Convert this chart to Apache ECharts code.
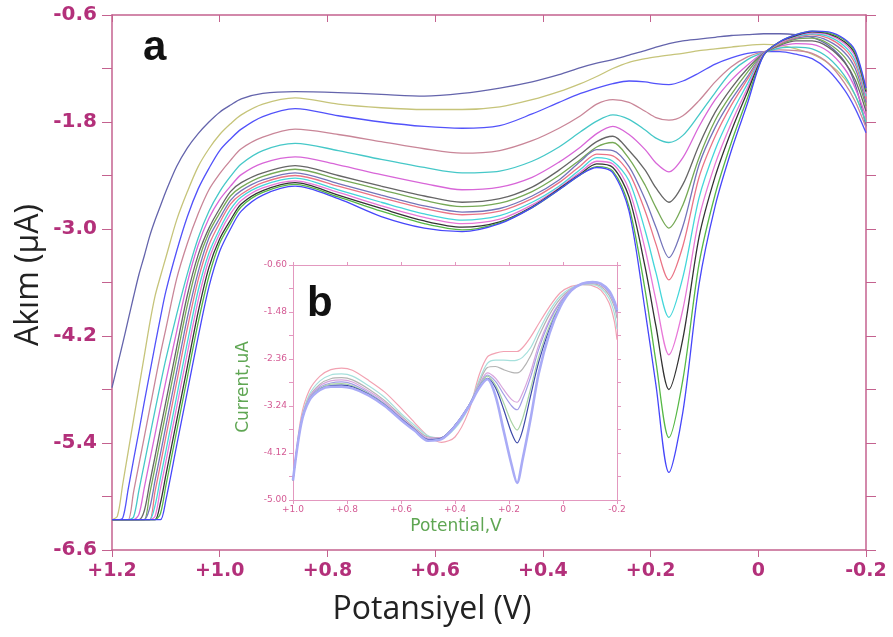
<!DOCTYPE html>
<html>
<head>
<meta charset="utf-8">
<script src="https://cdn.jsdelivr.net/npm/echarts@6/dist/echarts.min.js"></script>
<style>
html, body { margin: 0; padding: 0; background: #fff; }
#chart { width: 893px; height: 637px; }
</style>
</head>
<body>
<div id="chart"></div>
<script>
// potential grid (V) shared by all main curves
var potMain = [1.20, 1.19, 1.18, 1.17, 1.16, 1.15, 1.14, 1.13, 1.12, 1.11, 1.10,
  1.08, 1.06, 1.04, 1.02, 1.00, 0.98, 0.96, 0.92, 0.86,
  0.78, 0.70, 0.62, 0.55, 0.48, 0.42, 0.37, 0.33, 0.30,
  0.27, 0.24, 0.21, 0.19, 0.166, 0.14, 0.11, 0.08, 0.05, 0.02,
  -0.01, -0.04, -0.07, -0.10, -0.13, -0.16, -0.18, -0.20];

// current (uA), top curve first
var akim01 = [-4.78, -4.53, -4.28, -4.02, -3.76, -3.51, -3.30, -3.08, -2.90, -2.74, -2.58,
  -2.30, -2.09, -1.93, -1.80, -1.69, -1.61, -1.54, -1.48, -1.46,
  -1.47, -1.49, -1.51, -1.48, -1.42, -1.35, -1.27, -1.19, -1.14,
  -1.10, -1.05, -1.00, -0.96, -0.92, -0.89, -0.87, -0.85, -0.83, -0.82,
  -0.81, -0.81, -0.82, -0.85, -0.94, -1.12, -1.38, -1.85];
var akim02 = [-6.26, -6.22, -5.86, -5.50, -5.14, -4.78, -4.42, -4.06, -3.75, -3.53, -3.32,
  -2.90, -2.58, -2.30, -2.10, -1.94, -1.82, -1.72, -1.60, -1.53,
  -1.60, -1.64, -1.66, -1.66, -1.63, -1.55, -1.46, -1.37, -1.29,
  -1.20, -1.13, -1.09, -1.07, -1.05, -1.03, -1.00, -0.98, -0.96, -0.94,
  -0.93, -0.94, -0.98, -1.04, -1.14, -1.31, -1.50, -1.80];
var akim03 = [-6.26, -6.26, -6.24, -5.92, -5.59, -5.27, -4.94, -4.62, -4.30, -3.99, -3.70,
  -3.25, -2.86, -2.55, -2.32, -2.12, -1.99, -1.88, -1.74, -1.65,
  -1.73, -1.80, -1.85, -1.87, -1.84, -1.71, -1.58, -1.48, -1.42,
  -1.37, -1.34, -1.35, -1.37, -1.38, -1.34, -1.25, -1.15, -1.08, -1.03,
  -1.01, -1.01, -1.04, -1.09, -1.22, -1.44, -1.65, -1.92];
var akim04 = [-6.26, -6.26, -6.26, -6.26, -5.95, -5.64, -5.33, -5.02, -4.71, -4.40, -4.12,
  -3.56, -3.16, -2.83, -2.56, -2.38, -2.23, -2.10, -1.97, -1.88,
  -1.94, -2.02, -2.10, -2.15, -2.12, -2.01, -1.87, -1.73, -1.60,
  -1.55, -1.58, -1.68, -1.75, -1.78, -1.73, -1.56, -1.35, -1.18, -1.07,
  -1.01, -0.99, -1.00, -1.03, -1.14, -1.36, -1.57, -1.86];
var akim05 = [-6.26, -6.26, -6.26, -6.26, -6.23, -5.93, -5.63, -5.33, -5.03, -4.74, -4.46,
  -3.96, -3.50, -3.10, -2.80, -2.58, -2.41, -2.27, -2.12, -2.04,
  -2.12, -2.22, -2.31, -2.37, -2.35, -2.24, -2.08, -1.91, -1.79,
  -1.72, -1.77, -1.89, -1.98, -2.03, -1.95, -1.72, -1.47, -1.24, -1.10,
  -1.02, -0.97, -0.96, -0.98, -1.08, -1.28, -1.50, -1.80];
var akim06 = [-6.26, -6.26, -6.26, -6.26, -6.26, -6.20, -5.90, -5.60, -5.30, -5.00, -4.71,
  -4.15, -3.60, -3.18, -2.88, -2.67, -2.52, -2.39, -2.26, -2.19,
  -2.28, -2.39, -2.49, -2.56, -2.53, -2.42, -2.25, -2.08, -1.93,
  -1.85, -1.94, -2.11, -2.26, -2.36, -2.20, -1.85, -1.55, -1.33, -1.16,
  -1.02, -0.95, -0.92, -0.93, -1.01, -1.20, -1.42, -1.74];
var akim07 = [-6.26, -6.26, -6.26, -6.26, -6.26, -6.26, -6.16, -5.85, -5.55, -5.24, -4.94,
  -4.33, -3.74, -3.29, -2.99, -2.77, -2.58, -2.48, -2.37, -2.29,
  -2.40, -2.52, -2.63, -2.70, -2.66, -2.53, -2.34, -2.16, -2.02,
  -1.96, -2.12, -2.34, -2.54, -2.70, -2.50, -2.06, -1.69, -1.42, -1.20,
  -1.03, -0.94, -0.89, -0.89, -0.96, -1.13, -1.33, -1.68];
var akim08 = [-6.26, -6.26, -6.26, -6.26, -6.26, -6.26, -6.26, -5.97, -5.67, -5.36, -5.06,
  -4.45, -3.85, -3.37, -3.04, -2.82, -2.63, -2.53, -2.41, -2.33,
  -2.44, -2.56, -2.68, -2.75, -2.71, -2.58, -2.40, -2.22, -2.08,
  -2.03, -2.21, -2.51, -2.76, -2.99, -2.73, -2.20, -1.78, -1.49, -1.24,
  -1.03, -0.93, -0.87, -0.86, -0.92, -1.07, -1.26, -1.62];
var akim09 = [-6.26, -6.26, -6.26, -6.26, -6.26, -6.26, -6.26, -6.13, -5.82, -5.52, -5.21,
  -4.60, -3.99, -3.48, -3.10, -2.88, -2.68, -2.57, -2.45, -2.37,
  -2.49, -2.62, -2.74, -2.81, -2.77, -2.63, -2.45, -2.24, -2.11,
  -2.12, -2.30, -2.67, -2.98, -3.32, -2.97, -2.28, -1.86, -1.55, -1.29,
  -1.03, -0.92, -0.86, -0.84, -0.89, -1.02, -1.20, -1.58];
var akim10 = [-6.26, -6.26, -6.26, -6.26, -6.26, -6.26, -6.26, -6.26, -5.94, -5.64, -5.33,
  -4.72, -4.11, -3.57, -3.18, -2.93, -2.72, -2.61, -2.48, -2.40,
  -2.52, -2.65, -2.77, -2.84, -2.80, -2.66, -2.48, -2.29, -2.16,
  -2.18, -2.37, -2.80, -3.17, -3.57, -3.19, -2.42, -1.96, -1.61, -1.32,
  -1.04, -0.92, -0.85, -0.82, -0.86, -0.98, -1.15, -1.54];
var akim11 = [-6.26, -6.26, -6.26, -6.26, -6.26, -6.26, -6.26, -6.26, -6.10, -5.79, -5.49,
  -4.88, -4.27, -3.69, -3.27, -3.00, -2.78, -2.64, -2.51, -2.43,
  -2.56, -2.70, -2.83, -2.90, -2.85, -2.70, -2.52, -2.33, -2.20,
  -2.24, -2.46, -3.02, -3.49, -3.99, -3.54, -2.65, -2.11, -1.71, -1.37,
  -1.04, -0.91, -0.84, -0.81, -0.84, -0.95, -1.11, -1.51];
var akim12 = [-6.26, -6.26, -6.26, -6.26, -6.26, -6.26, -6.26, -6.26, -6.22, -5.91, -5.61,
  -5.00, -4.39, -3.80, -3.34, -3.05, -2.83, -2.68, -2.54, -2.46,
  -2.59, -2.74, -2.87, -2.94, -2.89, -2.73, -2.54, -2.36, -2.24,
  -2.27, -2.56, -3.23, -3.80, -4.41, -3.90, -2.88, -2.27, -1.81, -1.42,
  -1.04, -0.91, -0.83, -0.80, -0.82, -0.92, -1.07, -1.48];
var akim13 = [-6.26, -6.26, -6.26, -6.26, -6.26, -6.26, -6.26, -6.26, -6.26, -6.07, -5.76,
  -5.15, -4.54, -3.93, -3.43, -3.11, -2.90, -2.72, -2.57, -2.48,
  -2.62, -2.77, -2.91, -2.98, -2.92, -2.75, -2.55, -2.38, -2.27,
  -2.31, -2.64, -3.43, -4.09, -4.80, -4.23, -3.09, -2.41, -1.90, -1.46,
  -1.05, -0.90, -0.83, -0.79, -0.81, -0.90, -1.04, -1.46];
var akim14 = [-6.26, -6.26, -6.26, -6.26, -6.26, -6.26, -6.26, -6.26, -6.26, -6.19, -5.88,
  -5.27, -4.66, -4.05, -3.53, -3.16, -2.94, -2.75, -2.59, -2.50,
  -2.64, -2.80, -2.94, -3.01, -2.93, -2.76, -2.56, -2.39, -2.30,
  -2.35, -2.75, -3.69, -4.49, -5.34, -4.69, -3.39, -2.61, -2.03, -1.53,
  -1.05, -0.90, -0.82, -0.78, -0.80, -0.88, -1.02, -1.44];
var akim15 = [-6.26, -6.26, -6.26, -6.26, -6.26, -6.26, -6.26, -6.26, -6.26, -6.26, -6.04,
  -5.43, -4.82, -4.21, -3.65, -3.25, -3.00, -2.80, -2.62, -2.52,
  -2.66, -2.86, -2.99, -3.03, -2.94, -2.76, -2.56, -2.39, -2.31,
  -2.37, -2.80, -3.92, -4.75, -5.73, -5.05, -3.62, -2.74, -2.12, -1.59,
  -1.05, -0.90, -0.82, -0.78, -0.79, -0.87, -1.00, -1.42];

var mainCurves = [akim01, akim02, akim03, akim04, akim05, akim06, akim07, akim08,
  akim09, akim10, akim11, akim12, akim13, akim14, akim15];
var mainColors = ['#6464ac', '#c6c47a', '#5252fa', '#c98698', '#46c8c8', '#d866d8', '#666666', '#76a956',
  '#7474ba', '#ea7486', '#44d6da', '#e878d8', '#333333', '#56b845', '#4646fa'];

// inset (b)
var potInset = [1.0, 0.97, 0.94, 0.90, 0.86, 0.82, 0.78, 0.72, 0.66, 0.60, 0.55, 0.50, 0.45, 0.40, 0.35, 0.31,
  0.28, 0.25, 0.22, 0.19, 0.17,
  0.15, 0.12, 0.09, 0.05, 0.01, -0.03, -0.07, -0.11, -0.14, -0.17, -0.19, -0.20];
var current1 = [-4.63, -3.45, -2.95, -2.68, -2.56, -2.53, -2.57, -2.76, -2.98, -3.28, -3.55, -3.80, -3.92, -3.82, -3.35, -2.65,
  -2.32, -2.25, -2.22, -2.22, -2.22,
  -2.15, -1.95, -1.70, -1.38, -1.12, -1.00, -0.97, -0.99, -1.07, -1.30, -1.65, -2.00];
var current2 = [-4.63, -3.52, -3.03, -2.77, -2.66, -2.64, -2.68, -2.86, -3.08, -3.38, -3.60, -3.80, -3.84, -3.66, -3.28, -2.75,
  -2.44, -2.38, -2.38, -2.39, -2.38,
  -2.33, -2.15, -1.84, -1.46, -1.18, -1.03, -0.97, -0.97, -1.03, -1.22, -1.50, -1.80];
var current3 = [-4.63, -3.54, -3.07, -2.83, -2.73, -2.71, -2.75, -2.92, -3.14, -3.42, -3.64, -3.82, -3.83, -3.63, -3.26, -2.80,
  -2.52, -2.50, -2.56, -2.61, -2.62,
  -2.55, -2.30, -1.94, -1.53, -1.23, -1.05, -0.96, -0.95, -1.00, -1.16, -1.38, -1.60];
var current4 = [-4.63, -3.55, -3.09, -2.86, -2.77, -2.75, -2.79, -2.96, -3.17, -3.45, -3.66, -3.84, -3.83, -3.61, -3.25, -2.84,
  -2.62, -2.72, -2.93, -3.12, -3.17,
  -3.00, -2.60, -2.10, -1.62, -1.28, -1.06, -0.95, -0.93, -0.97, -1.12, -1.33, -1.52];
var current5 = [-4.63, -3.56, -3.11, -2.89, -2.81, -2.79, -2.83, -2.99, -3.20, -3.47, -3.68, -3.86, -3.84, -3.61, -3.24, -2.86,
  -2.66, -2.78, -3.02, -3.24, -3.31,
  -3.12, -2.70, -2.18, -1.66, -1.30, -1.07, -0.95, -0.92, -0.96, -1.10, -1.30, -1.48];
var current6 = [-4.63, -3.56, -3.12, -2.91, -2.83, -2.82, -2.86, -3.01, -3.21, -3.48, -3.68, -3.87, -3.84, -3.60, -3.24, -2.87,
  -2.68, -2.85, -3.18, -3.55, -3.69,
  -3.48, -2.92, -2.32, -1.74, -1.34, -1.08, -0.95, -0.92, -0.95, -1.08, -1.28, -1.46];
var current7 = [-4.63, -3.57, -3.13, -2.93, -2.86, -2.85, -2.88, -3.02, -3.22, -3.48, -3.68, -3.87, -3.84, -3.60, -3.24, -2.88,
  -2.72, -2.90, -3.30, -3.75, -3.93,
  -3.70, -3.05, -2.42, -1.80, -1.36, -1.08, -0.95, -0.92, -0.95, -1.08, -1.28, -1.45];
var current8 = [-4.63, -3.58, -3.14, -2.94, -2.88, -2.88, -2.91, -3.04, -3.24, -3.50, -3.70, -3.89, -3.86, -3.62, -3.26, -2.90,
  -2.74, -3.05, -3.70, -4.35, -4.68,
  -4.25, -3.48, -2.63, -1.88, -1.38, -1.08, -0.95, -0.92, -0.95, -1.08, -1.28, -1.45];

var insetCurves = [current1, current2, current3, current4, current5, current6, current7, current8];
var insetColors = ['#f2a2b2', '#a6e0dc', '#b4b4b4', '#d8a4dc', '#a29ce6', '#a8d3a4', '#3d49a8', '#a9abf6'];

var mainYTicks = { min: -6.6, max: -0.6, step: 1.2 };
var insetYTicks = { min: -5.0, max: -0.6, step: 0.88 };

var AXIS_PINK = '#c4628f';
var LABEL_PINK = '#b3307a';
var INSET_PINK = '#e398bf';
var INSET_LABEL = '#d45a94';
var INSET_GREEN = '#5fa653';

function potLabel(v) {
  if (Math.abs(v) < 1e-6) return '0';
  return (v > 0 ? '+' : '') + v.toFixed(1);
}

function toPairs(xs, ys) {
  return xs.map(function (x, i) { return [x, ys[i]]; });
}

var series = [];
mainCurves.forEach(function (c, i) {
  series.push({
    type: 'line', xAxisIndex: 0, yAxisIndex: 0,
    data: toPairs(potMain, c), showSymbol: false, smooth: 0.3,
    lineStyle: { color: mainColors[i], width: 1.3 }, silent: true
  });
});
insetCurves.forEach(function (c, i) {
  series.push({
    type: 'line', xAxisIndex: 2, yAxisIndex: 2,
    data: toPairs(potInset, c), showSymbol: false, smooth: 0.3,
    lineStyle: { color: insetColors[i], width: i === 7 ? 2.6 : 1.2 }, silent: true
  });
});

var myChart = echarts.init(document.getElementById('chart'));

var option = {
  animation: false,
  backgroundColor: '#fff',
  grid: [
    { left: 112, top: 15, width: 754, height: 535 },
    { left: 293, top: 265, width: 324, height: 235 }
  ],
  xAxis: [
    {
      gridIndex: 0, type: 'value', min: -0.2, max: 1.2, interval: 0.2, inverse: true, position: 'bottom',
      axisLine: { onZero: false, lineStyle: { color: AXIS_PINK, width: 1.5 } },
      axisTick: { length: 7, lineStyle: { color: AXIS_PINK } },
      axisLabel: { formatter: potLabel, color: LABEL_PINK, fontFamily: 'DejaVu Sans', fontWeight: 'bold', fontSize: 19, margin: 12 },
      splitLine: { show: false }
    },
    {
      gridIndex: 0, type: 'value', min: -0.2, max: 1.2, interval: 0.2, inverse: true, position: 'top',
      axisLine: { onZero: false, lineStyle: { color: AXIS_PINK, width: 1.5 } },
      axisTick: { inside: true, length: 7, lineStyle: { color: AXIS_PINK } },
      axisLabel: { show: false }, splitLine: { show: false }
    },
    {
      gridIndex: 1, type: 'value', min: -0.2, max: 1.0, interval: 0.2, inverse: true, position: 'bottom',
      axisLine: { onZero: false, lineStyle: { color: INSET_PINK, width: 1 } },
      axisTick: { length: 4, lineStyle: { color: INSET_PINK } },
      axisLabel: { formatter: potLabel, color: INSET_LABEL, fontFamily: 'DejaVu Sans', fontSize: 9, margin: 5 },
      splitLine: { show: false }
    },
    {
      gridIndex: 1, type: 'value', min: -0.2, max: 1.0, interval: 0.2, inverse: true, position: 'top',
      axisLine: { onZero: false, lineStyle: { color: INSET_PINK, width: 1 } },
      axisTick: { length: 3, lineStyle: { color: INSET_PINK } },
      axisLabel: { show: false }, splitLine: { show: false }
    }
  ],
  yAxis: [
    {
      gridIndex: 0, type: 'value', min: mainYTicks.min, max: mainYTicks.max, interval: mainYTicks.step, position: 'left',
      axisLine: { show: true, onZero: false, lineStyle: { color: AXIS_PINK, width: 1.5 } },
      axisTick: { show: true, length: 10, lineStyle: { color: AXIS_PINK } },
      minorTick: { show: true, splitNumber: 2, length: 10, lineStyle: { color: AXIS_PINK } },
      axisLabel: { formatter: function (v) { return v.toFixed(1); }, color: LABEL_PINK, fontFamily: 'DejaVu Sans', fontWeight: 'bold', fontSize: 20, margin: 15 },
      splitLine: { show: false }, minorSplitLine: { show: false }
    },
    {
      gridIndex: 0, type: 'value', min: mainYTicks.min, max: mainYTicks.max, interval: mainYTicks.step / 2, position: 'right',
      axisLine: { show: true, onZero: false, lineStyle: { color: AXIS_PINK, width: 1.5 } },
      axisTick: { show: true, length: 10, lineStyle: { color: AXIS_PINK } },
      axisLabel: { show: false }, splitLine: { show: false }
    },
    {
      gridIndex: 1, type: 'value', min: insetYTicks.min, max: insetYTicks.max, interval: insetYTicks.step, position: 'left',
      axisLine: { show: true, onZero: false, lineStyle: { color: INSET_PINK, width: 1 } },
      axisTick: { show: true, length: 4, lineStyle: { color: INSET_PINK } },
      minorTick: { show: true, splitNumber: 2, length: 4, lineStyle: { color: INSET_PINK } },
      axisLabel: { formatter: function (v) { return v.toFixed(2); }, color: INSET_LABEL, fontFamily: 'DejaVu Sans', fontSize: 9, margin: 6 },
      splitLine: { show: false }, minorSplitLine: { show: false }
    },
    {
      gridIndex: 1, type: 'value', min: insetYTicks.min, max: insetYTicks.max, interval: insetYTicks.step / 2, position: 'right',
      axisLine: { show: true, onZero: false, lineStyle: { color: INSET_PINK, width: 1 } },
      axisTick: { show: true, length: 4, lineStyle: { color: INSET_PINK } },
      axisLabel: { show: false }, splitLine: { show: false }
    }
  ],
  graphic: [
    { type: 'text', x: 143, y: 48, style: { text: 'a', fill: '#111', font: 'bold 42px "Liberation Sans"', textAlign: 'left', textVerticalAlign: 'middle' } },
    { type: 'text', x: 307, y: 304, style: { text: 'b', fill: '#111', font: 'bold 42px "Liberation Sans"', textAlign: 'left', textVerticalAlign: 'middle' } },
    { type: 'text', x: 432, y: 610, style: { text: 'Potansiyel (V)', fill: '#222', font: '32px "Open Sans"', textAlign: 'center', textVerticalAlign: 'middle' } },
    { type: 'text', x: 29, y: 275, rotation: Math.PI / 2, style: { text: 'Akım (µA)', fill: '#222', font: '32px "Open Sans"', textAlign: 'center', textVerticalAlign: 'middle' } },
    { type: 'text', x: 244, y: 387, rotation: Math.PI / 2, style: { text: 'Current,uA', fill: INSET_GREEN, font: '17px "DejaVu Sans"', textAlign: 'center', textVerticalAlign: 'middle' } },
    { type: 'text', x: 456, y: 527, style: { text: 'Potential,V', fill: INSET_GREEN, font: '17px "DejaVu Sans"', textAlign: 'center', textVerticalAlign: 'middle' } }
  ],
  series: series
};

if (option && typeof option === 'object') {
  myChart.setOption(option, true);
}
</script>
</body>
</html>
